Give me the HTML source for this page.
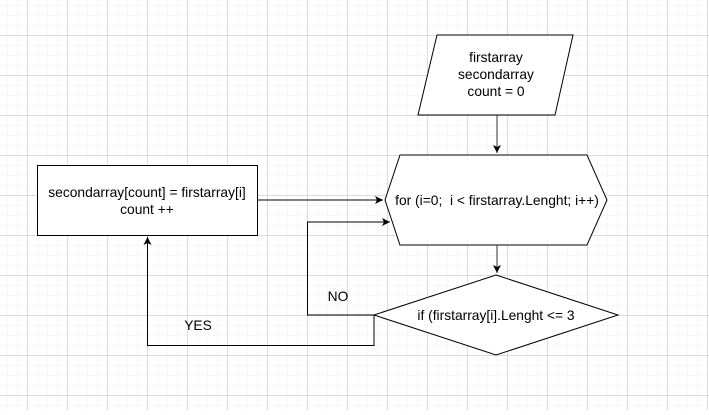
<!DOCTYPE html>
<html><head><style>
html,body{margin:0;padding:0;background:#fff;}
body{width:709px;height:410px;overflow:hidden;}
</style></head><body>
<svg width="709" height="410" xmlns="http://www.w3.org/2000/svg" font-family="Liberation Sans, sans-serif" font-size="13.8">
<defs>
<pattern id="m" width="10" height="10" patternUnits="userSpaceOnUse" x="7" y="5">
<path d="M0 0H10M0 0V10" stroke="#f0f0f0" stroke-width="1" fill="none"/>
</pattern>
<pattern id="M" width="40" height="40" patternUnits="userSpaceOnUse" x="27" y="35">
<path d="M0 0.5H40M0.5 0V40" stroke="#dcdcdc" stroke-width="1" fill="none"/>
</pattern>
<marker id="a" markerWidth="10" markerHeight="10" refX="8" refY="4" orient="auto" markerUnits="userSpaceOnUse">
<path d="M0 0L8 4L0 8L2 4Z" fill="#000"/>
</marker>
</defs>
<rect width="709" height="410" fill="url(#m)"/>
<rect width="709" height="410" fill="url(#M)"/>
<g stroke="#000" fill="#fff" stroke-width="1">
<polygon points="437,35 573,35 555,115 418,115"/>
<polygon points="400,155 587,155 607,200 587,245 400,245 385,200"/>
<polygon points="496,275 618,315 496,355 374,315"/>
<rect x="37.5" y="165.5" width="220" height="70"/>
</g>
<g stroke="#000" fill="none" stroke-width="1">
<path d="M497 115V153" stroke="#333" marker-end="url(#a)"/>
<path d="M497 245V273" stroke="#333" marker-end="url(#a)"/>
<path d="M257 200H383" marker-end="url(#a)"/>
<path d="M374 315H307.5V222H390" marker-end="url(#a)"/>
<path d="M374 315V345.5H147.5V237" marker-end="url(#a)"/>
</g>
<g fill="#000" text-anchor="middle">
<text x="496" y="62">firstarray</text>
<text x="496" y="79">secondarray</text>
<text x="496" y="96">count = 0</text>
<text x="497" y="205">for (i=0;&#160; i &lt; firstarray.Lenght; i++)</text>
<text x="496" y="320">if (firstarray[i].Lenght &lt;= 3</text>
<text x="147" y="197">secondarray[count] = firstarray[i]</text>
<text x="147" y="214">count ++</text>
<text x="338" y="301">NO</text>
<text x="198" y="330">YES</text>
</g>
</svg>
</body></html>
